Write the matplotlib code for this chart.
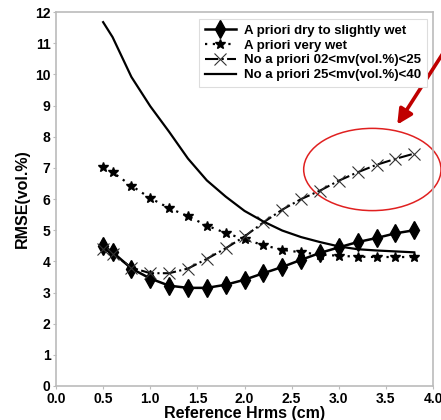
# RMSE vs reference Hrms, four retrieval configurations
import matplotlib
matplotlib.use('Agg')
import matplotlib.pyplot as plt
from matplotlib.patches import Ellipse

hrms = [0.5, 0.6, 0.8, 1.0, 1.2, 1.4, 1.6, 1.8, 2.0, 2.2,
        2.4, 2.6, 2.8, 3.0, 3.2, 3.4, 3.6, 3.8]

rmse_dry = [4.5, 4.3, 3.77, 3.45, 3.22, 3.15, 3.15, 3.25, 3.41, 3.62,
            3.82, 4.05, 4.27, 4.45, 4.62, 4.75, 4.9, 5.0]
rmse_wet = [7.03, 6.86, 6.43, 6.03, 5.71, 5.45, 5.15, 4.91, 4.71, 4.52,
            4.37, 4.29, 4.22, 4.18, 4.15, 4.14, 4.14, 4.14]
rmse_02_25 = [4.4, 4.25, 3.8, 3.62, 3.62, 3.77, 4.08, 4.42, 4.8, 5.25,
              5.66, 6.0, 6.27, 6.59, 6.86, 7.1, 7.29, 7.46]
rmse_25_40 = [11.68, 11.2, 9.92, 8.98, 8.16, 7.3, 6.6, 6.08, 5.62, 5.28,
              4.99, 4.78, 4.62, 4.48, 4.39, 4.35, 4.32, 4.29]

labels = ['A priori dry to slightly wet', 'A priori very wet',
          'No a priori 02<mv(vol.%)<25', 'No a priori 25<mv(vol.%)<40']

plt.rcParams['font.family'] = ['Liberation Sans', 'DejaVu Sans']
plt.rcParams['font.weight'] = 'bold'

fig = plt.figure(figsize=(4.41, 4.20), dpi=100)
ax = fig.add_axes([0.127, 0.081, 0.855, 0.890])

ax.plot(hrms, rmse_dry, color='black', lw=1.8, marker='d', ms=9,
        label=labels[0])
ax.plot(hrms, rmse_wet, color='black', lw=1.6, ls=(0, (1, 2.5)), marker='*',
        ms=7.5, label=labels[1])
ax.plot(hrms, rmse_02_25, color='black', lw=1.5, ls='-.', marker='x', ms=9,
        mew=0.8, mec='#333333', label=labels[2])
ax.plot(hrms, rmse_25_40, color='black', lw=1.6, label=labels[3])

ax.set_xlim(0, 4.0)
ax.set_ylim(0, 12)
ax.set_xticks([0, 0.5, 1.0, 1.5, 2.0, 2.5, 3.0, 3.5, 4.0])
ax.set_xticklabels(['0.0', '0.5', '1.0', '1.5', '2.0', '2.5', '3.0', '3.5', '4.0'])
ax.set_yticks(range(0, 13))
ax.tick_params(labelsize=10, length=2, color='#bbbbbb', pad=2)
for s in ax.spines.values():
    s.set_color('#bbbbbb')
    s.set_linewidth(1.2)

ax.set_xlabel('Reference Hrms (cm)', fontsize=11.5, fontweight='bold', labelpad=0)
ax.set_ylabel('RMSE(vol.%)', fontsize=11.5, fontweight='bold', labelpad=4)

leg = ax.legend(loc='upper right', bbox_to_anchor=(0.99, 0.99), fontsize=9.5,
                handlelength=2.3, handletextpad=0.6, labelspacing=0.2,
                borderpad=0.45, borderaxespad=0.2, fancybox=False, framealpha=1)
leg.get_frame().set_edgecolor('#dddddd')
leg.get_frame().set_linewidth(0.8)

# red highlight on the tail of the 02-25 curve
ell = Ellipse((3.356, 6.95), 1.457, 2.64, fill=False, edgecolor='#e02020',
              lw=1.1, clip_on=False)
ax.add_patch(ell)
ax.annotate('', xy=(3.62, 8.39), xycoords='data',
            xytext=(1.005, 0.874), textcoords='figure fraction',
            arrowprops=dict(arrowstyle='-|>,head_length=0.9,head_width=0.45',
                            color='#c00000', lw=2.6, shrinkA=0, shrinkB=0),
            annotation_clip=False)

fig.savefig('out.png', dpi=100)
